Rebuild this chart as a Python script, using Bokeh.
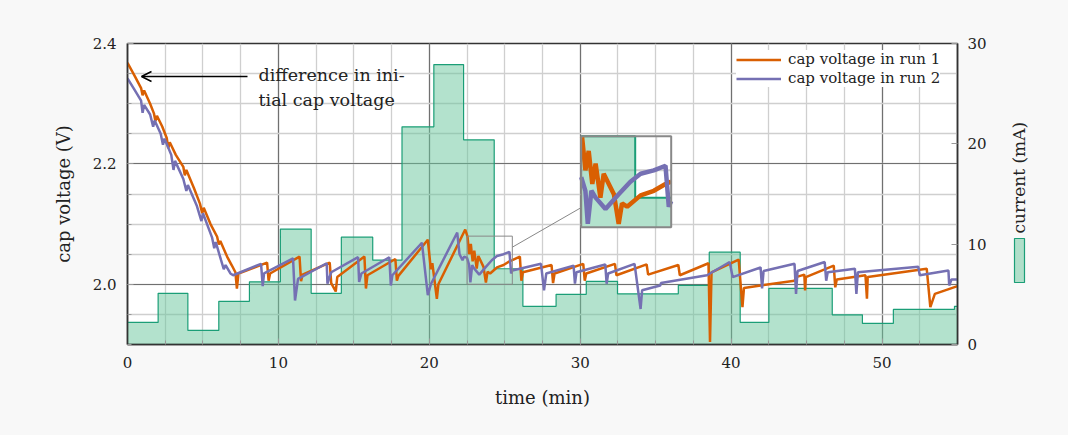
import numpy as np
from bokeh.plotting import figure
from bokeh.layouts import row
from bokeh.models import (LinearAxis, Range1d, FixedTicker, Legend, LegendItem, Label,
                          Arrow, OpenHead, PrintfTickFormatter)
from bokeh.embed import file_html
from bokeh.resources import INLINE

# ---------------- data ----------------
current_t = [0.0, 2.03, 4.0, 6.05, 8.08, 10.13, 12.17, 14.17, 16.25, 18.19, 20.3, 22.27,
             24.3, 26.2, 28.4, 30.4, 32.47, 36.5, 38.55, 40.6, 42.5, 46.7, 48.7, 50.75,
             54.8, 55.0]
current_mA = [2.2, 5.1, 1.4, 4.3, 6.25, 11.5, 5.1, 10.7, 8.4, 21.7, 27.9, 20.4,
              7.55, 3.8, 5.0, 6.3, 5.05, 5.9, 9.2, 2.2, 5.6, 2.96, 2.1, 3.5,
              3.8, 3.8]

run1_t = [0.0, 0.5, 0.9, 1.0, 1.1, 1.5, 1.75, 1.85, 1.95, 2.3, 2.6, 2.7, 2.8, 3.2, 3.7, 3.8,
          3.9, 4.4, 4.8, 4.95, 5.05, 5.5, 5.94, 6.05, 6.15, 6.6, 6.9, 7.15, 7.25, 7.35,
          9.25, 9.35, 9.45, 11.4, 11.5, 11.6, 13.4, 13.5, 13.8, 13.9, 15.7, 15.8, 15.9,
          17.75, 17.85, 17.95, 19.9, 20.1, 20.2, 20.5, 20.6, 22.38, 22.53, 22.64, 22.75,
          22.87, 22.98, 23.14, 23.25, 23.59, 23.75, 23.86, 24.03, 24.48, 24.92, 25.31,
          25.5, 26.0, 26.1, 26.2, 28.1, 28.2, 28.3, 30.2, 30.3, 30.4, 32.3, 32.4, 34.4,
          34.5, 36.5, 36.6, 38.5, 38.6, 38.7, 40.5, 40.75, 40.85, 44.2, 44.3, 44.85,
          44.9, 44.95, 46.8, 46.9, 47.0, 48.9, 49.0, 49.05, 52.96, 53.2, 53.5, 55.0]
run1_v = [2.368, 2.345, 2.326, 2.314, 2.322, 2.300, 2.284, 2.271, 2.280, 2.262, 2.243,
          2.226, 2.236, 2.215, 2.195, 2.181, 2.190, 2.160, 2.134, 2.118, 2.127, 2.100,
          2.079, 2.066, 2.072, 2.046, 2.032, 2.020, 1.993, 2.018,
          2.036, 2.006, 2.018, 2.046, 2.005, 2.016, 2.036, 2.002, 1.988, 2.012, 2.046,
          1.993, 2.015, 2.042, 2.006, 2.014, 2.074, 2.025, 2.035, 1.976, 2.000, 2.091,
          2.079, 2.050, 2.067, 2.038, 2.056, 2.026, 2.047, 2.029, 2.003, 2.021, 2.018,
          2.028, 2.032, 2.038, 2.040, 2.046, 2.006, 2.020, 2.032, 2.002, 2.018, 2.034,
          2.006, 2.018, 2.034, 2.015, 2.033, 2.016, 2.032, 2.015, 2.035, 1.904, 2.020,
          2.041, 1.962, 1.994, 2.006, 2.012, 2.016, 1.990, 2.012, 2.031, 1.995, 2.008,
          2.015, 1.976, 2.012, 2.026, 1.962, 1.984, 1.997]

run2_t = [0.0, 0.42, 0.9, 1.0, 1.1, 1.5, 1.7, 1.8, 2.2, 2.35, 2.45, 2.9, 3.05, 3.15, 3.7,
          3.9, 4.0, 4.6, 4.9, 5.0, 5.6, 5.75, 5.85, 6.2, 6.38, 6.5, 6.82, 7.0, 8.85, 8.96,
          9.05, 10.97, 11.1, 11.3, 13.2, 13.25, 13.5, 15.28, 15.35, 15.5, 17.35, 17.45,
          17.55, 19.51, 19.9, 20.1, 21.85, 22.0, 22.2, 22.3, 22.5, 22.64, 22.72, 22.84,
          22.98, 23.31, 23.75, 24.14, 24.48, 24.92, 25.31, 25.42, 25.5, 27.4, 27.6, 27.75,
          29.56, 29.65, 29.75, 31.66, 31.75, 31.85, 33.6, 34.0, 34.1, 35.3, 35.35, 38.4,
          39.9, 40.1, 41.95, 42.05, 42.15, 44.2, 44.3, 44.4, 46.2, 46.3, 46.4, 48.2, 48.3,
          48.4, 52.4, 52.5, 54.4, 54.45, 54.6, 55.0]
run2_v = [2.342, 2.325, 2.305, 2.285, 2.298, 2.282, 2.262, 2.272, 2.250, 2.232, 2.242,
          2.215, 2.190, 2.205, 2.175, 2.155, 2.165, 2.130, 2.105, 2.118, 2.078, 2.060,
          2.070, 2.040, 2.025, 2.032, 2.018, 2.015, 2.034, 1.997, 2.018, 2.043, 1.973,
          2.009, 2.035, 2.001, 2.020, 2.045, 2.004, 2.018, 2.045, 1.998, 2.015, 2.069,
          1.982, 2.000, 2.086, 2.050, 2.040, 2.046, 2.044, 2.032, 2.003, 2.032, 2.026,
          2.016, 2.029, 2.040, 2.047, 2.050, 2.054, 2.018, 2.023, 2.034, 1.990, 2.018,
          2.031, 2.001, 2.020, 2.033, 2.001, 2.018, 2.034, 1.959, 1.990, 1.998, 2.002,
          2.015, 2.037, 2.012, 2.028, 1.993, 2.022, 2.034, 1.984, 2.022, 2.037, 2.006,
          2.020, 2.026, 1.984, 2.020, 2.029, 2.015, 2.023, 1.998, 2.008, 2.008]

x_ticks = [0, 10, 20, 30, 40, 50]
v_ticks = [2.0, 2.2, 2.4]
i_ticks = [0, 10, 20, 30]

# ---------------- layout constants ----------------
X0, X1 = 0.0, 55.0
V0, V1 = 1.9, 2.4
I0, I1 = 0.0, 30.0
TOTAL_W, HEIGHT = 1068, 435
WIDTH = 1000                                # main figure; the rest holds the right title
B_LEFT, B_RIGHT, B_TOP, B_BOTTOM = 127, 43, 43, 91
FW = WIDTH - B_LEFT - B_RIGHT
FH = HEIGHT - B_TOP - B_BOTTOM
SPY = (22.5, 25.5, 2.0, 2.08)             # magnified window (t0, t1, v0, v1)
INSET_PX = (580.7, 670.7, 135.7, 226.7)    # inset box on canvas (left, right, top, bottom)

ORANGE = "#d95f02"
PURPLE = "#7570b3"
GREEN_LINE = "#1b9e77"
GREEN_FILL = "#67c59b"
FONT = "DejaVu Serif"
TXT = "#222222"
BG = "#f8f8f8"


def to_px(t, v):
    return B_LEFT + (t - X0) / (X1 - X0) * FW, B_TOP + (V1 - v) / (V1 - V0) * FH


def from_px(px, py):
    return X0 + (px - B_LEFT) / FW * (X1 - X0), V1 - (py - B_TOP) / FH * (V1 - V0)


p = figure(width=WIDTH, height=HEIGHT, x_range=Range1d(X0, X1), y_range=Range1d(V0, V1),
           output_backend="svg", toolbar_location=None,
           min_border_left=B_LEFT, min_border_right=B_RIGHT,
           min_border_top=B_TOP, min_border_bottom=B_BOTTOM)
p.background_fill_color = "white"
p.border_fill_color = BG
p.outline_line_color = "#333333"
p.outline_line_width = 1.5
xaxis = p.below[0]
laxis = p.left[0]

# ticks / grid
x_minor = list(np.round(np.arange(X0, X1 + 1e-9, 2.5), 3))
v_minor = list(np.round(np.arange(V0, V1 + 1e-9, 0.05), 3))
xaxis.ticker = FixedTicker(ticks=x_ticks, minor_ticks=x_minor)
laxis.ticker = FixedTicker(ticks=v_ticks, minor_ticks=v_minor)
laxis.formatter = PrintfTickFormatter(format="%.1f")
p.xgrid.ticker = FixedTicker(ticks=x_ticks, minor_ticks=x_minor)
p.ygrid.ticker = FixedTicker(ticks=v_ticks, minor_ticks=v_minor)
for g in (p.xgrid, p.ygrid):
    g.grid_line_color = "#707070"
    g.grid_line_width = 1.2
    g.minor_grid_line_color = "#cfcfcf"
    g.minor_grid_line_width = 1.3

p.extra_y_ranges = {"current": Range1d(I0, I1)}
raxis = LinearAxis(y_range_name="current", ticker=FixedTicker(ticks=i_ticks))
p.add_layout(raxis, "right")

for ax in (xaxis, laxis, raxis):
    ax.axis_line_color = "#333333"
    ax.axis_line_width = 1.5
    ax.major_tick_in = 6
    ax.major_tick_out = 0
    ax.minor_tick_in = 4
    ax.minor_tick_out = 0
    ax.major_tick_line_color = "#999999"
    ax.minor_tick_line_color = "#999999"
    ax.major_label_text_font = FONT
    ax.major_label_text_font_size = "15px"
    ax.major_label_text_color = TXT
    ax.axis_label_text_font = FONT
    ax.axis_label_text_font_size = "18px"
    ax.axis_label_text_font_style = "normal"
    ax.axis_label_text_color = TXT

xaxis.axis_label = "time (min)"
xaxis.major_label_standoff = 12
xaxis.axis_label_standoff = 16
laxis.axis_label = "cap voltage (V)"
laxis.major_label_standoff = 11
laxis.axis_label_standoff = 16
raxis.major_label_standoff = 10

# ---------------- main series ----------------
p.varea_step(x=current_t, y1=0, y2=current_mA, step_mode="after", y_range_name="current",
             fill_color=GREEN_FILL, fill_alpha=0.5)
p.step(x=current_t, y=current_mA, mode="after", y_range_name="current",
       line_color=GREEN_LINE, line_width=1.2)

r1 = p.line(run1_t, run1_v, line_color=ORANGE, line_width=2.5)
r2 = p.line(run2_t, run2_v, line_color=PURPLE, line_width=2.5)

# ---------------- spy inset ----------------
t0, t1, sv0, sv1 = SPY
il, ir, itop, ibot = INSET_PX
fl, fr = (il - B_LEFT) / FW, (ir - B_LEFT) / FW
fb, ft = (B_TOP + FH - ibot) / FH, (B_TOP + FH - itop) / FH
span_x = (t1 - t0) / (fr - fl)
ix0 = t0 - fl * span_x
span_v = (sv1 - sv0) / (ft - fb)
iv0 = sv0 - fb * span_v
k = (I1 - I0) / (V1 - V0)  # mA per volt on the twin axis
p.extra_x_ranges = {"inset_x": Range1d(ix0, ix0 + span_x)}
p.extra_y_ranges["inset_v"] = Range1d(iv0, iv0 + span_v)
p.extra_y_ranges["inset_i"] = Range1d(I0 + (iv0 - V0) * k, I0 + (iv0 + span_v - V0) * k)
IN = dict(x_range_name="inset_x", y_range_name="inset_v")

p.quad(left=t0, right=t1, bottom=sv0, top=sv1, fill_color="white", line_color=None, **IN)
gx = [g for g in x_minor if t0 < g < t1]
gy = [g for g in v_minor if sv0 < g < sv1]
if gx:
    p.segment(x0=gx, x1=gx, y0=[sv0] * len(gx), y1=[sv1] * len(gx), line_color="#cfcfcf",
              line_width=2, **IN)
if gy:
    p.segment(x0=[t0] * len(gy), x1=[t1] * len(gy), y0=gy, y1=gy, line_color="#cfcfcf",
              line_width=2, **IN)

# current inside the spy window
ct = np.array(current_t)
ci = np.array(current_mA)
i_lo, i_hi = I0 + (sv0 - V0) * k, I0 + (sv1 - V0) * k
idx0 = np.searchsorted(ct, t0, side="right") - 1
sel = (ct > t0) & (ct < t1)
wt = [t0] + list(ct[sel]) + [t1]
wi = [ci[idx0]] + list(ci[sel]) + [ci[sel][-1] if sel.any() else ci[idx0]]
wi = list(np.clip(wi, i_lo, i_hi))
p.varea_step(x=wt, y1=i_lo, y2=wi, step_mode="after", x_range_name="inset_x",
             y_range_name="inset_i", fill_color=GREEN_FILL, fill_alpha=0.5)
p.step(x=wt, y=wi, mode="after", x_range_name="inset_x", y_range_name="inset_i",
       line_color=GREEN_LINE, line_width=2)

for tt, vv, col in ((run1_t, run1_v, ORANGE), (run2_t, run2_v, PURPLE)):
    tt = np.array(tt); vv = np.array(vv)
    m = (tt >= t0) & (tt <= t1)
    p.line(tt[m], np.clip(vv[m], sv0, sv1), line_color=col, line_width=4.5, **IN)

p.quad(left=t0, right=t1, bottom=sv0, top=sv1, fill_color=None, line_color="#888888",
       line_width=2, **IN)

# spy marker on the main plot and connector
p.quad(left=t0, right=t1, bottom=sv0, top=sv1, fill_color=None, line_color="#888888",
       line_width=1)
sx0, sy1 = to_px(t0, sv1)
sx1, sy0 = to_px(t1, sv0)
cs = np.array([(sx0 + sx1) / 2, (sy0 + sy1) / 2])
ci_ = np.array([(il + ir) / 2, (itop + ibot) / 2])
d = ci_ - cs
s1 = min((sx1 - sx0) / 2 / abs(d[0]), (sy0 - sy1) / 2 / abs(d[1]))
s2 = min((ir - il) / 2 / abs(d[0]), (ibot - itop) / 2 / abs(d[1]))
A = cs + s1 * d
B = ci_ - s2 * d
ax_, ay_ = from_px(*A)
bx_, by_ = from_px(*B)
p.line([ax_, bx_], [ay_, by_], line_color="#888888", line_width=1)

# ---------------- legend ----------------
legend = Legend(items=[LegendItem(label="cap voltage in run 1", renderers=[r1]),
                       LegendItem(label="cap voltage in run 2", renderers=[r2])],
                location=(609, 257))
legend.background_fill_color = "white"
legend.background_fill_alpha = 1.0
legend.border_line_color = None
legend.label_text_font = FONT
legend.label_text_font_size = "15px"
legend.label_text_color = TXT
legend.glyph_width = 45
legend.glyph_height = 17
legend.label_height = 17
legend.label_standoff = 7
legend.spacing = 1
legend.padding = 3
legend.margin = 0
p.add_layout(legend)

# ---------------- annotation ----------------
arrow_from = from_px(247, 76)
arrow_to = from_px(141, 76)
p.add_layout(Arrow(end=OpenHead(size=10, line_width=1.5, line_color="black"),
                   x_start=arrow_from[0], y_start=arrow_from[1],
                   x_end=arrow_to[0], y_end=arrow_to[1], line_width=1.5,
                   line_color="black"))
note_lines = ["difference in ini-", "tial cap voltage"]
for i, txt in enumerate(note_lines):
    lx, ly = from_px(258, 74 + 25 * i)
    p.add_layout(Label(x=lx, y=ly, text=txt, text_baseline="middle", text_font=FONT,
                       text_font_size="17.5px", text_color=TXT))

# ---------------- right title with its fill swatch (canvas-pixel panel) ----------------
# Bokeh aligns the frames of figures in a row, so this panel's frame spans the same
# canvas rows as the main frame; its data units are canvas pixels.
side = figure(width=TOTAL_W - WIDTH, height=HEIGHT, x_range=Range1d(WIDTH, TOTAL_W),
              y_range=Range1d(B_TOP + FH, B_TOP), output_backend="svg",
              toolbar_location=None, min_border=0, min_border_top=B_TOP,
              min_border_bottom=B_BOTTOM, x_axis_type=None, y_axis_type=None)
side.background_fill_color = BG
side.border_fill_color = BG
side.outline_line_color = None
side.grid.visible = False
side.add_layout(Label(x=1018, y=233, text="current (mA)", angle=np.pi / 2,
                      text_align="left", text_baseline="middle", text_font=FONT,
                      text_font_size="17px", text_color=TXT))
side.quad(left=1014, right=1024, top=238, bottom=282, fill_color=GREEN_FILL, fill_alpha=0.5,
          line_color=GREEN_LINE, line_width=1.2)

layout = row(p, side, spacing=0, styles={"background-color": BG})
open("out.html", "w").write(file_html(layout, INLINE))
